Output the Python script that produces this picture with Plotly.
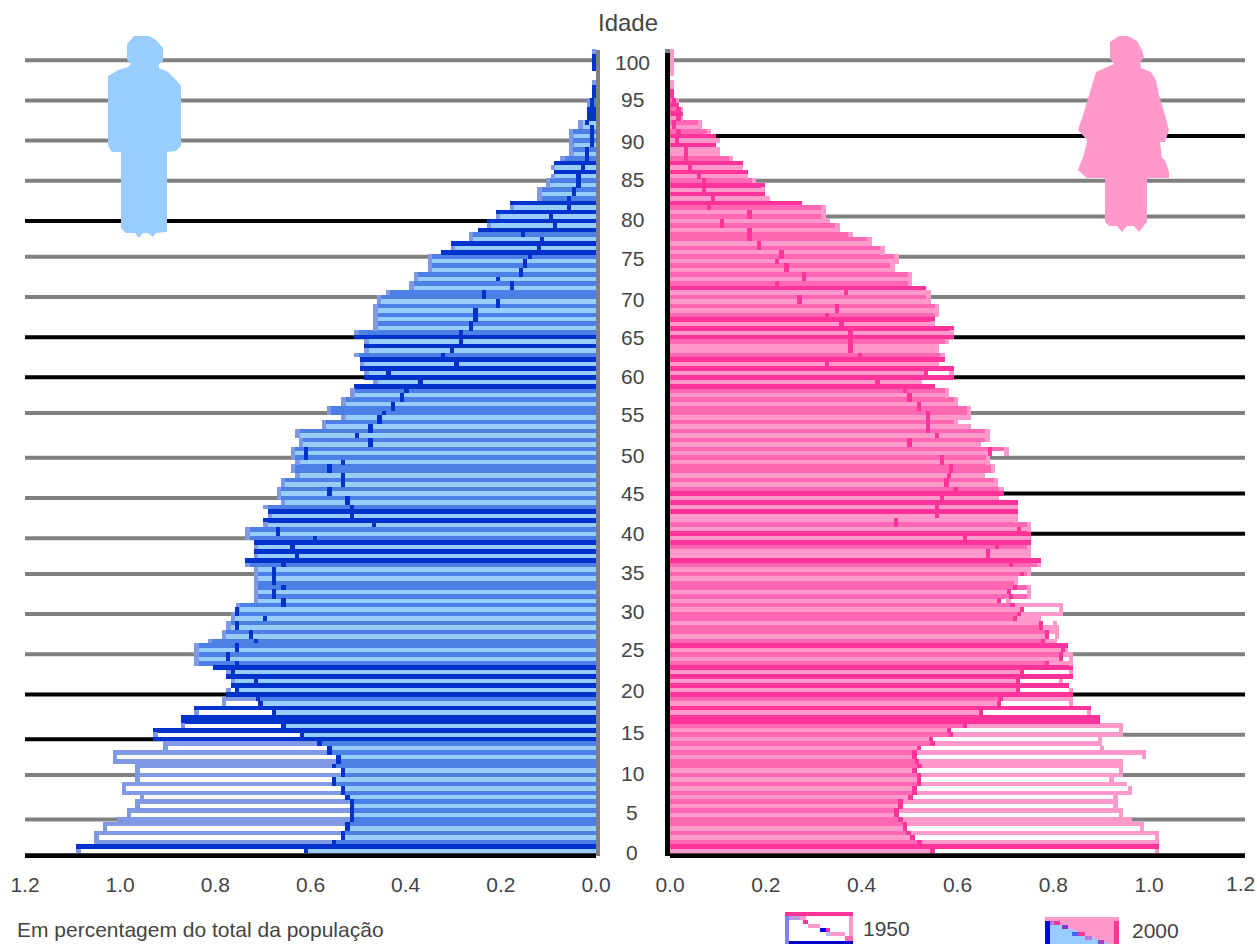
import plotly.graph_objects as go

# Rows of the pyramid, top (age 100) to bottom (age 0). Row kind: f = fill row, m = outline row, d = double outline row
kinds_m = ("mddddffmdd" "dmmdddffmf" "mfmfmdfdfm" "fmfmdfdfdf" "dmfdfdmfmf" "mfmfmmfmfm"
           "fmfmdfdfmd" "fdfdfdmfmf" "mmfmfmfmfm" "fmfmmfmfmf" "mfmdfdfmfm" "dfdfdmfmfm"
           "mfmfmfmfmf" "mfmmfmfmdf" "dfdfdmfdfd" "dfdfdmfmfm" "mfmfmfmfmf" "mfmmfmfmdf")
kinds_f = ("mfffffffmd" "dmdmdfmfmd" "fdffmdfdfm" "dfdfdmfmfm" "fmmfmfmfmf" "mfmdfmfmfm"
           "dfdfdmffmd" "fdfdfdmfmf" "mmfmfmfmfm" "fmfmmfmfmd" "fdfdffmfdf" "dmffdmfmfm"
           "mfmfmfmmfm" "mfmdfmfmdf" "dfdfdmfdfd" "dmfmfmfmfm" "mfmfmfmfmf" "mfmmfmfmdf")

male_2000 = [
 .009,.009,.009,.009,.009,0,0,.009,.009,.009,
 .009,.019,.019,.019,.019,.019,.037,.037,.057,.056,
 .057,.056,.057,.056,.075,.088,.095,.088,.095,.105,
 .105,.123,.123,.123,.181,.181,.210,.210,.229,.229,
 .248,.267,.267,.305,.305,.326,.354,.354,.354,.354,
 .383,.383,.392,.392,.441,.461,.461,.468,.468,.468,
 .468,.468,.468,.508,.508,.487,.487,.487,.508,.497,
 .497,.497,.487,.487,.468,.508,.516,.516,.535,.535,
 .565,.565,.535,.576,.576,.632,.632,.624,.624,.642,
 .642,.642,.632,.642,.642,.632,.662,.662,.670,.670,
 .670,.662,.699,.689,.689,.699,.699,.737,.737,.737,
 .719,.719,.719,.719,.737,.737,.719,.719,.719,.719,
 .719,.719,.719,.719,.757,.757,.767,.767,.777,.777,
 .786,.786,.815,.844,.844,.844,.844,.844,.805,.777,
 .777,.767,.767,.754,.777,.711,.705,.844,.676,.873,
 .873,.657,.930,.618,.930,.581,.560,.560,.541,.541,
 .550,.532,.532,.550,.550,.532,.532,.522,.513,.513,
 .513,.513,.513,.522,.522,.532,.532,.550,1.092,.609]
male_1950 = [
 .009,.009,.009,.009,.009,0,0,.009,.009,.009,
 .009,.009,.009,.019,.019,.019,.019,.009,.009,.009,
 .009,.009,.019,.019,.019,.088,.027,.088,.037,.037,
 .037,.046,.046,.057,.181,.057,.210,.095,.229,.086,
 .248,.153,.113,.305,.120,.326,.138,.149,.149,.158,
 .158,.206,.177,.177,.235,.235,.206,.206,.253,.253,
 .253,.263,.263,.284,.508,.284,.487,.303,.322,.497,
 .293,.497,.436,.487,.369,.508,.398,.407,.407,.427,
 .427,.446,.455,.455,.474,.474,.503,.474,.474,.609,
 .609,.609,.532,.560,.560,.532,.532,.532,.560,.560,
 .522,.522,.513,.689,.513,.699,.466,.668,.668,.590,
 .719,.638,.719,.628,.737,.657,.676,.676,.676,.676,
 .657,.676,.676,.657,.657,.754,.754,.695,.754,.754,
 .725,.725,.715,.754,.754,.773,.773,.754,.805,.763,
 .777,.715,.767,.777,.777,.786,.786,.844,.844,.873,
 .873,.873,.930,.930,.930,.909,.909,1.016,1.016,1.016,
 .968,.968,.968,.968,.997,.997,.997,.959,.968,.968,
 .986,.986,1.006,1.036,1.036,1.054,1.054,1.054,1.092,1.092]
female_2000 = [
 .008,.008,.008,.008,.008,.008,0,.008,.008,.008,
 .008,.018,.018,.028,.028,.028,.067,.067,.086,.095,
 .105,.095,.105,.105,.132,.153,.153,.162,.162,.180,
 .199,.199,.199,.209,.276,.325,.325,.325,.333,.354,
 .354,.381,.421,.421,.448,.448,.477,.477,.469,.469,
 .506,.506,.506,.534,.544,.544,.544,.562,.562,.562,
 .552,.552,.592,.592,.592,.582,.562,.562,.573,.573,
 .562,.592,.534,.592,.526,.552,.582,.582,.601,.601,
 .629,.629,.629,.601,.629,.667,.667,.667,.649,.707,
 .668,.668,.668,.678,.678,.657,.685,.685,.696,.696,
 .686,.726,.726,.726,.726,.726,.753,.753,.753,.753,
 .753,.753,.753,.753,.774,.774,.753,.753,.726,.726,
 .753,.707,.753,.686,.715,.735,.728,.720,.774,.774,
 .787,.787,.778,.830,.820,.816,.816,.787,.841,.735,
 .841,.726,.832,.726,.841,.690,.686,.879,.649,.898,
 .898,.615,.582,.586,.544,.548,.519,.510,.510,.515,
 .521,.510,.519,.519,.519,.510,.510,.502,.481,.481,
 .473,.473,.481,.490,.490,.498,.506,.521,1.021,.548]
female_1950 = [
 .008,.008,.008,.008,.008,.008,0,.008,.008,.008,
 .008,.008,.018,.018,.028,.018,.008,.008,.018,.095,
 .015,.095,.033,.033,.033,.153,.042,.162,.061,.071,
 .199,.071,.199,.090,.276,.081,.166,.166,.109,.109,
 .166,.166,.166,.186,.186,.233,.233,.223,.243,.243,
 .280,.280,.223,.534,.367,.270,.270,.348,.348,.328,
 .552,.358,.592,.377,.592,.377,.377,.377,.396,.573,
 .328,.592,.592,.592,.433,.552,.490,.500,.500,.519,
 .519,.538,.538,.538,.538,.538,.557,.500,.500,.668,
 .707,.567,.567,.586,.586,.582,.577,.577,.596,.696,
 .567,.726,.557,.726,.557,.472,.472,.728,.753,.615,
 .753,.682,.664,.664,.774,.711,.753,.735,.726,.726,
 .720,.753,.711,.711,.820,.820,.820,.774,.808,.812,
 .812,.812,.808,.830,.830,.841,.841,.841,.841,.841,
 .841,.820,.832,.841,.841,.841,.841,.879,.879,.898,
 .898,.946,.946,.946,.902,.902,.906,.994,.994,.946,
 .946,.946,.946,.926,.954,.965,.965,.934,.934,.934,
 .946,.946,.965,.989,.989,1.021,1.021,1.021,1.021,1.021]

age_labels = [100, 95, 90, 85, 80, 75, 70, 65, 60, 55, 50, 45, 40, 35, 30, 25, 20, 15, 10, 5, 0]
label_rows = [2.6,10.9,20.3,28.8,37.6,46.3,55.5,64,72.7,81.4,90.6,98.9,107.9,116.6,125.5,134,143.2,152.6,161.6,170.5,179.3]
grid_rows_m = [2,11,20,29,38,46,55,64,73,81,91,100,109,117,126,135,144,154,162,172,180]
grid_rows_f = [2,11,19,29,37,46,55,64,73,81,91,99,108,117,126,135,144,153,162,172,180]
black_ages_m = [80, 65, 60, 20, 15, 0]
black_ages_f = [90, 65, 60, 45, 40, 20, 0]
x_ticks = [0, 0.2, 0.4, 0.6, 0.8, 1.0, 1.2]

W, H = 1257, 944
TXT = "#444444"
FONT = "Liberation Sans"
PAL_M = dict(fill="#99CCFF", mid="#4D80E6", pale="#7F99E5", dark="#0033CC")
PAL_F = dict(fill="#FF99CC", mid="#FF66B3", pale="#FF99CC", dark="#FF3399")


def row_traces(v1950, v2000, kinds, pal, xa):
    rows = list(range(len(kinds)))
    out = []

    def add(idx, xs, color, base=None, name=""):
        t = go.Bar(y=[rows[i] for i in idx], x=xs, base=base, width=1.03, orientation="h",
                   marker=dict(color=color, line=dict(width=0)), xaxis=xa, yaxis="y",
                   showlegend=False, name=name, hoverinfo="skip")
        out.append(t)

    f = [i for i in rows if kinds[i] == "f"]
    m = [i for i in rows if kinds[i] == "m"]
    d = [i for i in rows if kinds[i] == "d"]
    add(f, [max(v1950[i], v2000[i]) for i in f], "#FFFFFF", name="1950 fill")
    add(f, [v2000[i] for i in f], pal["fill"], name="2000 fill")
    add(m, [v1950[i] for i in m], pal["pale"], name="1950 outline")
    add(m, [v2000[i] for i in m], pal["mid"], name="2000 outline")
    add(d, [max(v1950[i], v2000[i]) for i in d], pal["dark"], name="both outlines")
    # end caps of the bars
    fm = f + m
    capw = 0.009
    add(fm, [capw] * len(fm), pal["pale"], base=[max(v1950[i], v2000[i]) - capw for i in fm], name="outer end")
    diff = [i for i in fm if v1950[i] != v2000[i]]
    add(diff, [capw] * len(diff), pal["dark"], base=[min(v1950[i], v2000[i]) - capw / 2 for i in diff], name="inner end")
    return out


fig = go.Figure()
for t in row_traces(male_1950, male_2000, kinds_m, PAL_M, "x"):
    fig.add_trace(t)
for t in row_traces(female_1950, female_2000, kinds_f, PAL_F, "x2"):
    fig.add_trace(t)


def px(x):
    return x / W


def py(y):
    return 1 - y / H


def poly(points, color):
    path = "M " + " L ".join(f"{px(a):.5f},{py(b):.5f}" for a, b in points) + " Z"
    return dict(type="path", path=path, xref="paper", yref="paper", fillcolor=color,
                line=dict(width=0), layer="below")


def rect(x0, y0, x1, y1, color, layer="above"):
    return dict(type="rect", x0=px(x0), x1=px(x1), y0=py(y1), y1=py(y0), xref="paper", yref="paper",
                fillcolor=color, line=dict(width=0), layer=layer)


shapes = []
for axis, grid, blacks in (("x", grid_rows_m, black_ages_m), ("x2", grid_rows_f, black_ages_f)):
    for age, r in zip(age_labels, grid):
        shapes.append(dict(type="line", xref=f"{axis} domain", yref="y", x0=0, x1=1, y0=r, y1=r,
                           line=dict(color="#000000" if age in blacks else "#808080", width=4), layer="below"))

male_shape = [(134,36),(149,36),(156,40),(163,48),(163,61),(159,64),(159,68),(168,72),(176,80),(181,86),
              (181,146),(176,151),(167,152),(167,232),(156,233),(153,237),(148,233),(143,233),(139,238),
              (135,233),(126,233),(121,228),(121,152),(112,152),(108,146),(108,76),(118,70),(128,67),(131,64),
              (127,60),(127,44)]
female_shape = [(1119,36),(1128,36),(1137,41),(1142,50),(1144,57),(1140,62),(1141,68),(1151,72),(1156,80),(1159,95),
                (1162,105),(1165,115),(1169,130),(1165,142),(1160,142),(1162,158),(1165,160),(1169,172),(1169,178),
                (1147,178),(1147,222),(1143,227),(1139,232),(1134,226),(1127,226),(1122,232),(1117,226),(1109,226),
                (1105,222),(1105,178),(1087,178),(1078,170),(1083,157),(1087,142),(1087,140),(1078,130),(1083,115),
                (1087,102),(1092,85),(1096,72),(1107,67),(1114,64),(1110,58),(1110,42)]
shapes.append(poly(male_shape, "#99CCFF"))
shapes.append(poly(female_shape, "#FF99CC"))

# central axes
shapes.append(rect(596, 50, 600, 856, "#808080"))
shapes.append(rect(665, 53, 670, 856, "#000000"))
shapes.append(rect(665, 49, 670, 53, "#808080"))

# legend keys
shapes += [
    rect(785, 912, 853, 944, "#FFFFFF"),
    rect(785, 912, 853, 916, "#FF3399"),
    rect(785, 916, 789, 944, "#8080FF"),
    rect(849, 916, 853, 944, "#FF99CC"),
    rect(789, 941, 853, 944, "#0000CC"),
    rect(789, 916, 800, 920, "#BB99E5"),
    rect(800, 916, 806, 920, "#FF99CC"),
    rect(803, 920, 808, 924, "#FF3399"),
    rect(808, 924, 820, 928, "#FF99CC"),
    rect(820, 928, 826, 932, "#0000FF"),
    rect(826, 928, 830, 932, "#FF3399"),
    rect(826, 932, 830, 936, "#BBBBFF"),
    rect(830, 932, 845, 936, "#FF99CC"),
    rect(845, 936, 853, 941, "#FF66B3"),
    rect(1045, 917, 1119, 944, "#FF99CC"),
    rect(1114, 921, 1119, 944, "#FF3399"),
    rect(1045, 921, 1050, 944, "#0000FF"),
    poly([(1050,921),(1110,944),(1050,944)], "#99CCFF") | {"layer": "above"},
    rect(1050, 921, 1054, 925, "#BB77DD"),
    rect(1054, 921, 1060, 925, "#FF3399"),
    rect(1062, 925, 1068, 929, "#8833CC"),
    rect(1072, 932, 1078, 936, "#4466EE"),
    rect(1078, 932, 1085, 936, "#FF3399"),
    rect(1085, 936, 1092, 940, "#BB77DD"),
    rect(1098, 940, 1104, 944, "#9944CC"),
]

ann = []
for age, r in zip(age_labels, label_rows):
    ann.append(dict(x=632 / W, y=r, xref="paper", yref="y", text=str(age), showarrow=False,
                    font=dict(size=21, family=FONT, color=TXT), xanchor="center", yanchor="middle"))
for text, x, y, anchor, size in (("Idade", 628, 22, "center", 24),
                                 ("Em percentagem do total da população", 15, 929, "left", 21),
                                 ("1950", 886, 928, "center", 21),
                                 ("2000", 1155, 930, "center", 21),
                                 ("1.2", 1240, 883, "center", 21)):
    ann.append(dict(x=x / W, y=py(y), xref="paper", yref="paper", text=text, showarrow=False,
                    font=dict(size=size, family=FONT, color=TXT), xanchor=anchor, yanchor="middle"))


def x_axis(domain, rng, labels):
    return dict(domain=domain, range=rng, tickvals=x_ticks, ticktext=labels,
                showgrid=False, zeroline=False, showline=True, linecolor="#000000", linewidth=4,
                ticks="outside", ticklen=9, tickwidth=0, tickcolor="rgba(0,0,0,0)", automargin=False,
                tickfont=dict(size=21, family=FONT, color=TXT), anchor="y")


labels = [f"{v:.1f}" for v in x_ticks]
fig.update_layout(
    width=W, height=H, margin=dict(l=0, r=0, t=0, b=0), autosize=False,
    paper_bgcolor="#FFFFFF", plot_bgcolor="#FFFFFF", barmode="overlay", bargap=0,
    xaxis=x_axis([25 / W, 596 / W], [1.2, 0], labels),
    xaxis2=x_axis([670 / W, 1245 / W], [0, 1.2], labels[:-1] + [""]),
    yaxis=dict(domain=[(H - 854) / H, 1], range=[179.7, -11.47], showgrid=False, zeroline=False, automargin=False,
               showticklabels=False, ticks="", showline=False),
    shapes=shapes, annotations=ann, showlegend=False,
)

fig.write_html("out.html", config={"displayModeBar": False},
               post_script="document.body.style.margin='0';window.dispatchEvent(new Event('resize'));")
